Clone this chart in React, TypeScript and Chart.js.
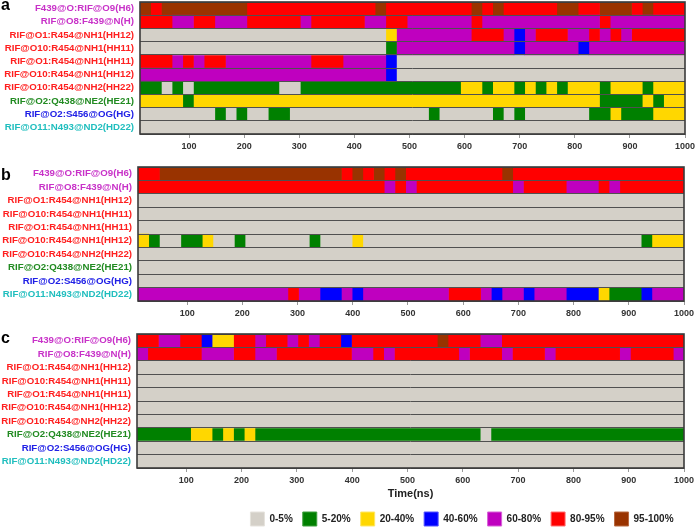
import React, { useEffect, useRef } from 'react';
import { Chart, registerables } from 'chart.js';

Chart.register(...registerables);

const FONT = '"Liberation Sans", Arial, sans-serif';

const ROW_LABELS = [
  'F439@O:RIF@O9(H6)',
  'RIF@O8:F439@N(H)',
  'RIF@O1:R454@NH1(HH12)',
  'RIF@O10:R454@NH1(HH11)',
  'RIF@O1:R454@NH1(HH11)',
  'RIF@O10:R454@NH1(HH12)',
  'RIF@O10:R454@NH2(HH22)',
  'RIF@O2:Q438@NE2(HE21)',
  'RIF@O2:S456@OG(HG)',
  'RIF@O11:N493@ND2(HD22)',
];
const ROW_LABEL_COLORS = [
  '#C832C8', '#C832C8', '#FF2020', '#FF2020', '#FF2020',
  '#FF2020', '#FF2020', '#228B22', '#2020E6', '#20BEBE',
];

const CATEGORY_LABELS = ['0-5%', '5-20%', '20-40%', '40-60%', '60-80%', '80-95%', '95-100%'];
const CATEGORY_COLORS = ['#D4D0C8', '#008000', '#FFD700', '#0000FF', '#BF00BF', '#FF0000', '#993300'];
const CATEGORY_BORDERS = ['#E6E3DD', '#3FA03F', '#FFE766', '#5555FF', '#D860D8', '#FF7070', '#B86A40'];

const TIME_MIN = 11;
const TIME_MAX = 1000;
const N_BINS = 51;
const TIME_TICKS = [100, 200, 300, 400, 500, 600, 700, 800, 900, 1000];

// Each row: runs of [category code, number of time bins]
// codes: 0=0-5%, 1=5-20%, 2=20-40%, 3=40-60%, 4=60-80%, 5=80-95%, 6=95-100%
const PANEL_A: number[][][] = [
  [[6,1],[5,1],[6,8],[5,12],[6,1],[5,8],[6,1],[5,1],[6,1],[5,5],[6,2],[5,2],[6,3],[5,1],[6,1],[5,3]],
  [[5,3],[4,2],[5,2],[4,3],[5,5],[4,1],[5,5],[4,2],[5,2],[4,6],[5,1],[4,11],[5,1],[4,7]],
  [[0,23],[2,1],[4,7],[5,3],[4,1],[3,1],[4,1],[5,3],[4,2],[5,1],[4,1],[5,1],[4,1],[5,5]],
  [[0,23],[1,1],[4,11],[3,1],[4,5],[3,1],[4,9]],
  [[5,3],[4,1],[5,1],[4,1],[5,2],[4,8],[5,3],[4,4],[3,1],[0,27]],
  [[4,23],[3,1],[0,27]],
  [[1,2],[0,1],[1,1],[0,1],[1,8],[0,2],[1,15],[2,2],[1,1],[2,2],[1,1],[2,1],[1,1],[2,1],[1,1],[2,3],[1,1],[2,3],[1,1],[2,3]],
  [[2,4],[1,1],[2,38],[1,4],[2,1],[1,1],[2,2]],
  [[0,7],[1,1],[0,1],[1,1],[0,2],[1,2],[0,13],[1,1],[0,5],[1,1],[0,1],[1,1],[0,6],[1,2],[2,1],[1,3],[2,3]],
  [[0,51]],
];

const PANEL_B: number[][][] = [
  [[5,2],[6,17],[5,1],[6,1],[5,1],[6,1],[5,1],[6,1],[5,9],[6,1],[5,16]],
  [[5,23],[4,1],[5,1],[4,1],[5,9],[4,1],[5,4],[4,3],[5,1],[4,1],[5,6]],
  [[0,51]],
  [[0,51]],
  [[0,51]],
  [[2,1],[1,1],[0,2],[1,2],[2,1],[0,2],[1,1],[0,6],[1,1],[0,3],[2,1],[0,26],[1,1],[2,3]],
  [[0,51]],
  [[0,51]],
  [[0,51]],
  [[4,14],[5,1],[4,2],[3,2],[4,1],[3,1],[4,8],[5,3],[4,1],[3,1],[4,2],[3,1],[4,3],[3,3],[2,1],[1,3],[3,1],[4,3]],
];

const PANEL_C: number[][][] = [
  [[5,2],[4,2],[5,2],[3,1],[2,2],[5,2],[4,1],[5,2],[4,1],[5,1],[4,1],[5,2],[3,1],[5,8],[6,1],[5,3],[4,2],[5,17]],
  [[4,1],[5,5],[4,3],[5,2],[4,2],[5,7],[4,2],[5,1],[4,1],[5,6],[4,1],[5,3],[4,1],[5,3],[4,1],[5,6],[4,1],[5,4],[4,1]],
  [[0,51]],
  [[0,51]],
  [[0,51]],
  [[0,51]],
  [[0,51]],
  [[1,5],[2,2],[1,1],[2,1],[1,1],[2,1],[1,21],[0,1],[1,18]],
  [[0,51]],
  [[0,51]],
];

const binTime = (i: number) => TIME_MIN + (i * (TIME_MAX - TIME_MIN)) / N_BINS;

function toRuns(row: number[][]) {
  const runs: { from: number; to: number; code: number }[] = [];
  let s = 0;
  for (const [code, n] of row) {
    runs.push({ from: s, to: s + n, code });
    s += n;
  }
  return runs;
}

function buildDatasets(rows: number[][][]) {
  const runs = rows.map(toRuns);
  const maxRuns = Math.max(...runs.map((r) => r.length));
  const datasets: any[] = [];
  for (let j = 0; j < maxRuns; j++) {
    datasets.push({
      data: runs.map((r) => (r[j] ? [binTime(r[j].from), binTime(r[j].to)] : null)),
      backgroundColor: runs.map((r) => (r[j] ? CATEGORY_COLORS[r[j].code] : 'rgba(0,0,0,0)')),
      borderWidth: 0,
      grouped: false,
      barPercentage: 1,
      categoryPercentage: 1,
    });
  }
  return datasets;
}

interface PanelSpec {
  letter: string;
  letterY: number;
  rows: number[][][];
  top: number;
  height: number;
  padTop: number;
  padRight: number;
  yWidth: number;
  xHeight: number;
  showTitle: boolean;
  showLegend: boolean;
}

const framePlugin = {
  id: 'frame',
  afterDraw(chart: any) {
    const { ctx, chartArea } = chart;
    ctx.save();
    ctx.strokeStyle = '#3a3a3a';
    ctx.lineWidth = 1.6;
    ctx.strokeRect(chartArea.left, chartArea.top, chartArea.right - chartArea.left, chartArea.bottom - chartArea.top);
    ctx.restore();
  },
};

function makeConfig(spec: PanelSpec): any {
  const letterPlugin = {
    id: 'panelLetter',
    afterDraw(chart: any) {
      const ctx = chart.ctx;
      ctx.save();
      ctx.font = `bold 16px ${FONT}`;
      ctx.fillStyle = '#000';
      ctx.textBaseline = 'alphabetic';
      ctx.textAlign = 'left';
      ctx.fillText(spec.letter, 1, spec.letterY);
      ctx.restore();
    },
  };
  const legendShift = {
    id: 'legendShift',
    afterLayout(chart: any) {
      if (spec.showLegend && chart.legend) {
        chart.legend.left += 120;
        chart.legend.right += 120;
      }
    },
  };
  return {
    type: 'bar',
    data: { labels: ROW_LABELS, datasets: buildDatasets(spec.rows) },
    options: {
      indexAxis: 'y',
      animation: false,
      responsive: false,
      maintainAspectRatio: false,
      devicePixelRatio: 1,
      events: [],
      layout: { padding: { top: spec.padTop, left: 0, right: spec.padRight, bottom: 0 } },
      plugins: {
        tooltip: { enabled: false },
        title: { display: false },
        legend: {
          display: spec.showLegend,
          position: 'bottom',
          onClick: null,
          labels: {
            boxWidth: 14,
            boxHeight: 14,
            padding: 10,
            color: '#222',
            font: { family: FONT, size: 10, weight: 'bold' },
            generateLabels: () =>
              CATEGORY_LABELS.map((t, i) => ({
                text: t,
                fillStyle: CATEGORY_COLORS[i],
                strokeStyle: CATEGORY_BORDERS[i],
                lineWidth: 1,
                hidden: false,
                fontColor: '#222',
                datasetIndex: i,
              })),
          },
        },
      },
      scales: {
        x: {
          type: 'linear',
          min: TIME_MIN,
          max: TIME_MAX,
          afterBuildTicks: (s: any) => {
            s.ticks = TIME_TICKS.map((v) => ({ value: v }));
          },
          afterFit: (s: any) => {
            s.height = spec.xHeight;
            s.paddingLeft = 0;
            s.paddingRight = 0;
          },
          grid: { drawOnChartArea: false, drawTicks: true, tickLength: 4, color: '#9a9a9a' },
          border: { display: false },
          ticks: {
            autoSkip: false,
            maxRotation: 0,
            padding: 3,
            color: '#333',
            font: { family: FONT, size: 9, weight: 'bold' },
            callback: (v: any) => String(v),
          },
          title: {
            display: spec.showTitle,
            text: 'Time(ns)',
            color: '#222',
            font: { family: FONT, size: 11, weight: 'bold' },
            padding: { top: 0, bottom: 1 },
          },
        },
        y: {
          type: 'category',
          afterFit: (s: any) => {
            s.width = spec.yWidth;
            s.paddingTop = 0;
            s.paddingBottom = 0;
          },
          grid: { color: '#505050', lineWidth: 1, drawTicks: false, offset: true, z: 1 },
          border: { display: false },
          ticks: {
            autoSkip: false,
            padding: 6,
            color: (c: any) => ROW_LABEL_COLORS[c.index],
            font: { family: FONT, size: 9.7, weight: 'bold' },
          },
        },
      },
    },
    plugins: [framePlugin, letterPlugin, legendShift],
  };
}

const PANELS: PanelSpec[] = [
  { letter: 'a', letterY: 10, rows: PANEL_A, top: 0, height: 160, padTop: 2, padRight: 11, yWidth: 140, xHeight: 26, showTitle: false, showLegend: false },
  { letter: 'b', letterY: 20, rows: PANEL_B, top: 160, height: 160, padTop: 7, padRight: 12, yWidth: 138, xHeight: 19, showTitle: false, showLegend: false },
  { letter: 'c', letterY: 23, rows: PANEL_C, top: 320, height: 216, padTop: 14, padRight: 12, yWidth: 137, xHeight: 34, showTitle: true, showLegend: true },
];

function Panel({ spec }: { spec: PanelSpec }) {
  const ref = useRef<HTMLCanvasElement | null>(null);
  useEffect(() => {
    if (!ref.current) return;
    const chart = new Chart(ref.current, makeConfig(spec));
    return () => chart.destroy();
  }, [spec]);
  return (
    <canvas
      ref={ref}
      width={696}
      height={spec.height}
      style={{ position: 'absolute', left: 0, top: spec.top, width: 696, height: spec.height, display: 'block' }}
    />
  );
}

export default function App() {
  return (
    <div
      style={{
        position: 'absolute',
        left: 0,
        top: 0,
        width: 696,
        height: 527,
        overflow: 'hidden',
        background: '#fff',
      }}
    >
      {PANELS.map((p) => (
        <Panel key={p.letter} spec={p} />
      ))}
    </div>
  );
}
